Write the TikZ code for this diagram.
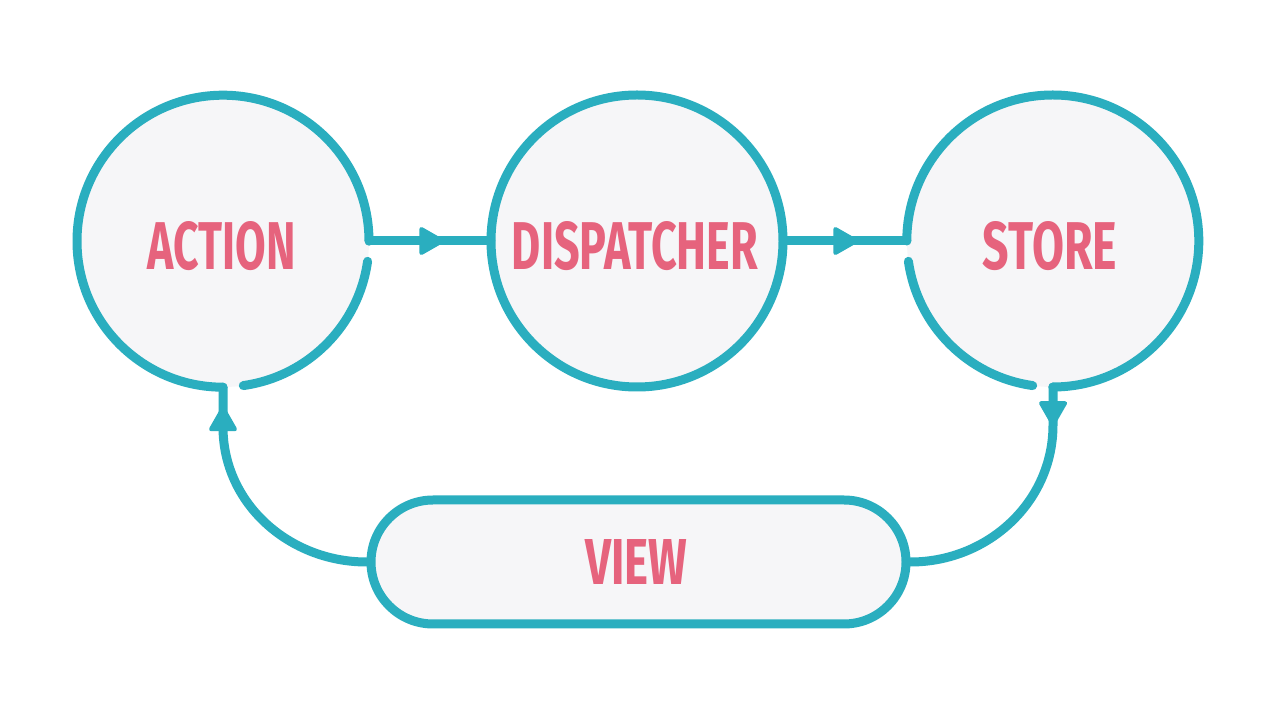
\documentclass[tikz,border=0pt]{standalone}
\usepackage{fontspec}
\usepackage{graphicx}
\setmainfont{Fira Sans}
\usetikzlibrary{decorations.markings}

\definecolor{flowteal}{HTML}{2AAEBF}
\definecolor{labelpink}{HTML}{E6637D}
\definecolor{nodefill}{HTML}{F6F6F8}

% label text, stretched to a fixed width and cap height
\newcommand{\fluxlabel}[3]{\resizebox{#1pt}{#2pt}{\bfseries #3}}

\tikzset{
  ring/.style={draw=flowteal, line width=9pt, line cap=round, line join=round},
  flow/.style={draw=flowteal, line width=9pt, line cap=round, line join=round},
  hub/.style={circle, fill=nodefill, minimum size=292pt, inner sep=0pt},
  viewbox/.style={rectangle, rounded corners=62pt, draw=flowteal, fill=nodefill,
    line width=9pt, minimum width=535pt, minimum height=124pt, inner sep=0pt},
  caption/.style={text=labelpink, inner sep=0pt, anchor=center},
  headmark/.style={postaction={decorate, decoration={markings,
    mark=at position #1 with {\fill[flowteal, draw=flowteal, line width=4pt, line join=round]
      (-22pt,12pt) -- (-1pt,0pt) -- (-22pt,-12pt) -- cycle;}}}},
}

\begin{document}
\begin{tikzpicture}[x=1pt, y=1pt]
  \useasboundingbox[fill=white] (0,0) rectangle (1280,720);

  % the three hubs
  \node[hub] (act) at (223,479) {};
  \node[hub] (disp) at (637,479) {};
  \node[hub] (store) at (1053,479) {};
  \node[viewbox] (view) at (638.5,158) {};

  % outlines of the hubs, open where the flow enters and leaves
  \draw[ring] (act.south) arc[start angle=270, end angle=0, radius=146];
  \draw[ring] ([shift={(-8:146)}]act.center) arc[start angle=-8, end angle=-82, radius=146];
  \draw[ring] (disp.center) circle[radius=146];
  \draw[ring] (store.west) arc[start angle=180, end angle=-90, radius=146];
  \draw[ring] ([shift={(-98:146)}]store.center) arc[start angle=-98, end angle=-172, radius=146];

  % the one-way data flow
  \draw[flow, headmark=0.61] (act.east) -- (disp.west);
  \draw[flow, headmark=0.6] (disp.east) -- (store.west);
  \coordinate (storedrop) at (1053,295);
  \draw[flow, headmark=38pt] (store.south) -- (storedrop) to[out=-90, in=0] (view.east);
  \coordinate (actrise) at (223,293);
  \draw[flow, headmark=-20pt] (view.west) to[out=180, in=-90] (actrise) -- (act.south);

  % labels
  \node[caption] (actlbl) at (222,474) {\fluxlabel{148}{48}{ACTION}};
  \node[caption] (displbl) at (635,474) {\fluxlabel{246}{48}{DISPATCHER}};
  \node[caption] (storelbl) at (1050,474) {\fluxlabel{134}{48}{STORE}};
  \node[caption] (viewlbl) at (636,157.5) {\fluxlabel{102}{45}{VIEW}};
\end{tikzpicture}
\end{document}
